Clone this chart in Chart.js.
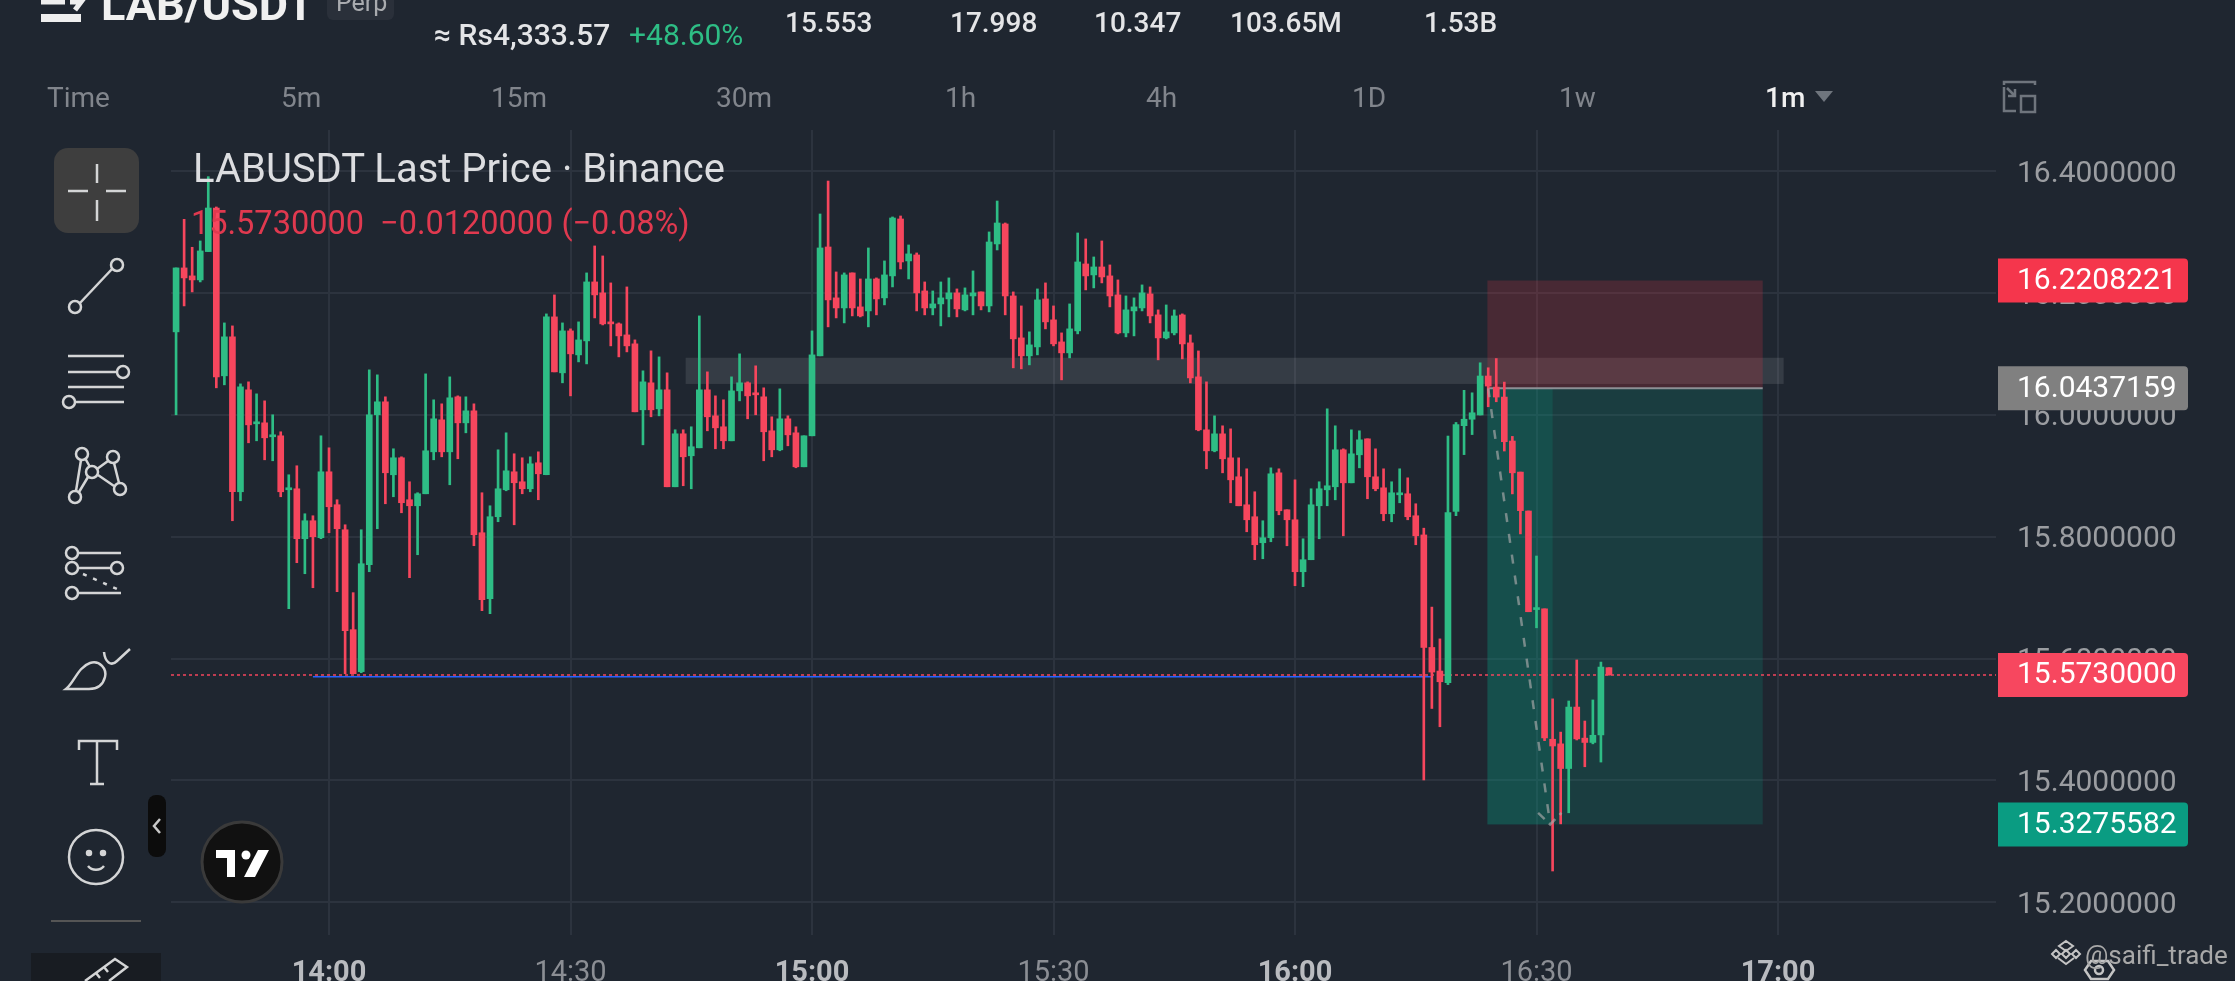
<!DOCTYPE html>
<html>
<head>
<meta charset="utf-8">
<title>LABUSDT</title>
<script src="https://cdn.jsdelivr.net/npm/chart.js@4"></script>
<style>
  html, body { margin: 0; padding: 0; background: #1f2630; overflow: hidden; }
  #wrap { position: relative; width: 2235px; height: 981px; overflow: hidden; font-family: Roboto, sans-serif; }
  #myChart { position: absolute; left: 0; top: 0; }
  #icons { position: absolute; left: 0; top: 0; }
  .t { position: absolute; white-space: pre; line-height: 1; }
  .head { color: #e4e5e7; font-size: 28px; font-weight: 500; }
  .tab { color: #81858c; font-size: 28px; top: 84px; }
</style>
</head>
<body>
<div id="wrap">
  <canvas id="myChart" width="2235" height="981"></canvas>
  <svg id="icons" width="2235" height="981" fill="none" stroke="#d4d5d6" stroke-width="2.5">
    <!-- header -->
    <rect x="41" y="14" width="40" height="8" fill="#eee" stroke="none"/>
    <path d="M41 2h24M70 2h11l-6 8" stroke="#eee" stroke-width="5"/>
    <rect x="327" y="-10" width="67" height="30" rx="6" fill="#2a303a" stroke="none"/>
    <path d="M2004 85v-3h31v3M2004 87v24h12M2007 88l8 8M2015 89v7h-7" stroke="#6f757d"/>
    <rect x="2021" y="96" width="14" height="16" stroke="#6f757d"/>
    <path d="M1815 91h18l-9 11z" fill="#6f757d" stroke="none"/>
    <!-- toolbar -->
    <rect x="54" y="148" width="85" height="85" rx="14" fill="#3e3e3e" stroke="none"/>
    <path d="M68 191h20M106 191h20M97 164v19M97 200v21"/>
    <circle cx="75" cy="307" r="6"/><circle cx="117" cy="265" r="6"/><path d="M80 303l32-34"/>
    <path d="M68 356h56M68 372h49M68 387h56M75 402h49"/><circle cx="123" cy="372" r="6"/><circle cx="69" cy="402" r="6"/>
    <circle cx="82" cy="454" r="6"/><circle cx="113" cy="457" r="6"/><circle cx="92" cy="472" r="6"/><circle cx="75" cy="497" r="6"/><circle cx="120" cy="489" r="6"/>
    <path d="M76 491l5-31M85 458l5 9M108 461l-11 8M114 463l5 20M98 475l16 11M88 477l-9 15"/>
    <circle cx="72" cy="553" r="6"/><circle cx="72" cy="568" r="6"/><circle cx="117" cy="568" r="6"/><circle cx="72" cy="593" r="6"/>
    <path d="M78 553h43M78 568h33M78 593h43"/><path d="M83 574l34 15" stroke-dasharray="4 7"/>
    <path d="M66 689c8-6 12-22 24-26 10-3 17 6 15 14-2 8-8 12-16 12z"/><path d="M104 652c1 10 7 15 13 9l13-12"/>
    <path d="M79 750v-9h38v9M97 741v43M90 784h14"/>
    <circle cx="96" cy="857" r="27"/><circle cx="89" cy="853" r="2" fill="#d4d5d6"/><circle cx="103" cy="853" r="2" fill="#d4d5d6"/><path d="M88 866c4 5 12 5 16 0"/>
    <path d="M51 921h90" stroke="#555" stroke-width="2"/>
    <rect x="31" y="953" width="130" height="28" fill="#181c22" stroke="none"/>
    <path d="M85 981l30-22 12 8-18 14M96 973l4 5M104 967l4 5"/>
    <rect x="148" y="795" width="18" height="62" rx="8" fill="#0c0c0c" stroke="none"/>
    <path d="M160 819l-6 7 6 7" stroke="#c8c8c8"/>
    <!-- logo -->
    <circle cx="242" cy="862" r="40" fill="#111" stroke="#3a3a3a" stroke-width="3"/>
    <path d="M216 850h19v27h-8v-19h-11zM258 850h11l-14 27h-11z" fill="#fff" stroke="none"/>
    <circle cx="246" cy="855" r="4.5" fill="#fff" stroke="none"/>
    <!-- watermark -->
    <path d="M2066 941l7 5-7 5-7-5zM2056 950l4 4-4 4-4-4zM2076 950l4 4-4 4-4-4zM2066 950l4 4-4 4-4-4zM2058 958l8 6 8-6" stroke="#c4c4c4" stroke-width="2"/>
    <path d="M2085 970l6-9h17l6 9-6 9h-17z" stroke="#c4c4c4"/><circle cx="2099" cy="970" r="4" stroke="#c4c4c4"/>
  </svg>

  <div class="t" style="left:101px;top:-18px;font-size:45px;font-weight:700;color:#f0f0f0">LAB/USDT</div>
  <div class="t" style="left:336px;top:-10px;font-size:25px;color:#a9abaf">Perp</div>
  <div class="t head" style="left:434px;top:20px;font-size:30px">≈ Rs4,333.57</div>
  <div class="t" style="left:629px;top:20px;font-size:30px;color:#2ebd85">+48.60%</div>
  <div class="t head" style="left:785px;top:9px">15.553</div>
  <div class="t head" style="left:950px;top:9px">17.998</div>
  <div class="t head" style="left:1094px;top:9px">10.347</div>
  <div class="t head" style="left:1230px;top:9px">103.65M</div>
  <div class="t head" style="left:1424px;top:9px">1.53B</div>

  <div class="t tab" style="left:47px">Time</div>
  <div class="t tab" style="left:281px">5m</div>
  <div class="t tab" style="left:491px">15m</div>
  <div class="t tab" style="left:716px">30m</div>
  <div class="t tab" style="left:945px">1h</div>
  <div class="t tab" style="left:1146px">4h</div>
  <div class="t tab" style="left:1352px">1D</div>
  <div class="t tab" style="left:1559px">1w</div>
  <div class="t tab" style="left:1765px;color:#f0f0f0;font-weight:500">1m</div>

  <div class="t" style="left:193px;top:149px;font-size:40px;color:#dcdde0">LABUSDT Last Price · Binance</div>
  <div class="t" style="left:191px;top:207px;font-size:32.5px;color:#e0394f">15.5730000  −0.0120000 (−0.08%)</div>
  <div class="t" style="left:2085px;top:942px;font-size:26px;color:#a8a8a8">@saifi_trade</div>
</div>

<script>
// x = minutes after 14:00, one candle per minute
const minutes = [
  -19, -18, -17, -16, -15, -14, -13, -12, -11, -10, -9, -8, -7, -6, -5, -4, -3, -2, -1,
  0, 1, 2, 3, 4, 5, 6, 7, 8, 9, 10, 11, 12, 13, 14, 15, 16, 17, 18, 19,
  20, 21, 22, 23, 24, 25, 26, 27, 28, 29, 30, 31, 32, 33, 34, 35, 36, 37, 38, 39,
  40, 41, 42, 43, 44, 45, 46, 47, 48, 49, 50, 51, 52, 53, 54, 55, 56, 57, 58, 59,
  60, 61, 62, 63, 64, 65, 66, 67, 68, 69, 70, 71, 72, 73, 74, 75, 76, 77, 78, 79,
  80, 81, 82, 83, 84, 85, 86, 87, 88, 89, 90, 91, 92, 93, 94, 95, 96, 97, 98, 99,
  100, 101, 102, 103, 104, 105, 106, 107, 108, 109, 110, 111, 112, 113, 114, 115, 116, 117, 118, 119,
  120, 121, 122, 123, 124, 125, 126, 127, 128, 129, 130, 131, 132, 133, 134, 135, 136, 137, 138, 139,
  140, 141, 142, 143, 144, 145, 146, 147, 148, 149, 150, 151, 152, 153, 154, 155, 156, 157, 158, 159,
];

const opens = [
  16.1365, 16.2415, 16.2284, 16.2218, 16.2683, 16.3399, 16.0643, 16.1283, 15.8739, 16.0413, 15.9855, 15.9871, 15.9642, 15.9658, 15.8772, 15.8788, 15.7968, 15.8263, 15.7985,
  15.9067, 15.8526, 15.8115, 15.6474, 15.5785, 15.7541, 16.0003, 16.0216, 15.9018, 15.9297, 15.8608, 15.8509, 15.8706, 15.9395, 15.992, 15.9395, 16.0298, 15.9871, 16.0068, 15.8066,
  15.6983, 15.8329, 15.8772, 15.9067, 15.8903, 15.8788, 15.9215, 15.9018, 16.1611, 16.0692, 16.1381, 16.0987, 16.1217, 16.2185, 16.2005, 16.1529, 16.1496, 16.1315, 16.1168, 16.0085,
  16.0528, 16.0101, 16.0413, 15.8821, 15.9691, 15.933, 15.9461, 16.0413, 15.9986, 15.9806, 15.9576, 16.0396, 16.0528, 16.0364, 16.0298, 15.974, 15.9428, 15.9937, 15.9707, 15.9149,
  15.9658, 16.0971, 16.2759, 16.1923, 16.1758, 16.2333, 16.1775, 16.1709, 16.2234, 16.1923, 16.2284, 16.3219, 16.253, 16.2628, 16.2037, 16.1758, 16.1824, 16.1906, 16.2005, 16.1726,
  16.1955, 16.2021, 16.1791, 16.2809, 16.3137, 16.1955, 16.1266, 16.0971, 16.1118, 16.1906, 16.1562, 16.12, 16.102, 16.1381, 16.248, 16.23, 16.2431, 16.2284, 16.1972, 16.1348,
  16.1709, 16.1758, 16.1988, 16.1644, 16.1266, 16.1348, 16.1643, 16.1184, 16.0626, 15.9756, 15.9411, 15.969, 15.9296, 15.8985, 15.8525, 15.8329, 15.7902, 15.7984, 15.905, 15.8443,
  15.8279, 15.7426, 15.7623, 15.8509, 15.8771, 15.8821, 15.9428, 15.8886, 15.9346, 15.9608, 15.8985, 15.8804, 15.8378, 15.8689, 15.8706, 15.8345, 15.803, 15.6182, 15.5795, 15.5602,
  15.8417, 15.9824, 15.993, 16.0, 16.064, 16.0458, 16.0294, 15.9572, 15.9062, 15.8423, 15.6804, 15.6816, 15.4675, 15.4599, 15.4194, 15.5203, 15.4693, 15.4622, 15.4746, 15.585,
];

const highs = [
  16.2415, 16.3213, 16.2754, 16.2858, 16.3914, 16.3416, 16.1512, 16.1463, 16.0511, 16.0544, 16.0347, 16.0232, 16.0003, 15.9724, 15.9018, 15.9166, 15.8378, 15.8345, 15.9658,
  15.9461, 15.8608, 15.8197, 15.7082, 15.8115, 16.0741, 16.0659, 16.0298, 15.9445, 15.9313, 15.8903, 15.8723, 16.0675, 16.0249, 16.0183, 16.0626, 16.0314, 16.0298, 16.0183, 15.8723,
  15.8509, 15.9428, 15.9707, 15.9363, 15.9297, 15.9313, 15.9395, 16.166, 16.1972, 16.1512, 16.1414, 16.1529, 16.2333, 16.2776, 16.2612, 16.2169, 16.1512, 16.2103, 16.1233, 16.0725,
  16.1053, 16.0954, 16.0692, 15.9757, 15.9757, 15.9806, 16.1627, 16.0708, 16.0314, 16.0249, 16.0626, 16.1004, 16.0544, 16.0807, 16.0446, 15.997, 16.0429, 15.9986, 15.9806, 15.9658,
  16.1381, 16.3301, 16.3842, 16.2349, 16.2333, 16.2333, 16.2234, 16.2743, 16.2251, 16.253, 16.3252, 16.3268, 16.2792, 16.2661, 16.2185, 16.2037, 16.2185, 16.2251, 16.207, 16.2087,
  16.2366, 16.2021, 16.3006, 16.3514, 16.3153, 16.2021, 16.1791, 16.1365, 16.207, 16.2169, 16.1791, 16.1348, 16.1824, 16.2989, 16.2891, 16.2595, 16.2858, 16.2464, 16.2218, 16.1955,
  16.1923, 16.2136, 16.2103, 16.1726, 16.1807, 16.1725, 16.166, 16.1315, 16.1052, 16.0544, 15.9986, 15.9822, 15.9772, 15.9296, 15.9116, 15.8739, 15.8263, 15.9132, 15.9116, 15.8443,
  15.8935, 15.7967, 15.8788, 15.8903, 16.0101, 15.9822, 15.9444, 15.9756, 15.974, 15.9608, 15.9444, 15.9116, 15.8903, 15.9116, 15.8968, 15.8542, 15.8141, 15.6845, 15.6323, 15.9654,
  15.9877, 16.0405, 16.0364, 16.0857, 16.0775, 16.0927, 16.054, 15.9648, 15.9062, 15.8423, 15.7684, 15.6816, 15.5338, 15.4792, 15.5303, 15.5977, 15.4974, 15.532, 15.5942, 15.585,
];

const lows = [
  16.0003, 16.1791, 16.2021, 16.2185, 16.2683, 16.0446, 16.0495, 15.8263, 15.8591, 15.9543, 15.9576, 15.9264, 15.9248, 15.8657, 15.6819, 15.7574, 15.7393, 15.7163, 15.7968,
  15.8066, 15.7098, 15.5752, 15.5752, 15.5768, 15.7426, 15.8132, 15.8542, 15.8657, 15.8394, 15.7328, 15.7705, 15.8706, 15.9264, 15.9313, 15.8854, 15.9281, 15.9707, 15.7853, 15.6786,
  15.6737, 15.8247, 15.8755, 15.8197, 15.8706, 15.8739, 15.8608, 15.9018, 16.0708, 16.0528, 16.0314, 16.0872, 16.0839, 16.1594, 16.1479, 16.1135, 16.0954, 16.1036, 16.0052, 15.951,
  15.997, 15.9986, 15.8821, 15.8821, 15.8838, 15.8788, 15.9461, 15.974, 15.9445, 15.9445, 15.9576, 16.0232, 15.9937, 16.0003, 15.9248, 15.9313, 15.9412, 15.9494, 15.9133, 15.9149,
  15.9658, 16.0971, 16.1447, 16.1594, 16.1512, 16.1627, 16.1611, 16.1447, 16.1644, 16.1808, 16.2103, 16.2398, 16.2234, 16.1709, 16.1644, 16.1644, 16.1463, 16.1611, 16.1611, 16.1709,
  16.1644, 16.1726, 16.1693, 16.271, 16.1644, 16.0774, 16.0757, 16.0823, 16.0987, 16.1414, 16.1135, 16.0577, 16.0938, 16.1332, 16.2054, 16.2087, 16.2169, 16.1775, 16.1332, 16.1283,
  16.1299, 16.1709, 16.1512, 16.0905, 16.1249, 16.1315, 16.0921, 16.0527, 15.974, 15.9116, 15.9395, 15.905, 15.8558, 15.8509, 15.8082, 15.7623, 15.7639, 15.7918, 15.8361, 15.7852,
  15.7196, 15.718, 15.7623, 15.7967, 15.8509, 15.8607, 15.8016, 15.8886, 15.9132, 15.8624, 15.8755, 15.8263, 15.8246, 15.8558, 15.8279, 15.7869, 15.4006, 15.518, 15.488, 15.5572,
  15.8346, 15.9349, 15.9678, 16.0, 16.0135, 16.0217, 15.9408, 15.8704, 15.8047, 15.6769, 15.6505, 15.4651, 15.2511, 15.3285, 15.3467, 15.4663, 15.4223, 15.4599, 15.43, 15.573,
];

const closes = [
  16.2415, 16.2251, 16.2218, 16.2694, 16.3399, 16.0626, 16.1283, 15.8739, 16.0462, 15.9838, 15.9888, 15.9625, 15.9674, 15.8739, 15.8805, 15.7968, 15.8263, 15.8001, 15.9067,
  15.8493, 15.8132, 15.6458, 15.5752, 15.7557, 16.0003, 16.0216, 15.9051, 15.9297, 15.8559, 15.8509, 15.8706, 15.9412, 15.9937, 15.9395, 16.0282, 15.9871, 16.0068, 15.8033, 15.6967,
  15.8329, 15.8788, 15.9083, 15.8887, 15.8788, 15.9198, 15.9034, 16.1611, 16.0708, 16.1381, 16.1004, 16.1233, 16.2185, 16.1972, 16.1496, 16.1496, 16.1299, 16.1135, 16.0052, 16.0544,
  16.0085, 16.0413, 15.8821, 15.9691, 15.9313, 15.9478, 16.0413, 15.997, 15.9789, 15.9576, 16.0396, 16.0528, 16.0314, 16.0331, 15.9724, 15.9428, 15.9937, 15.9674, 15.9149, 15.9658,
  16.0987, 16.2743, 16.189, 16.1758, 16.23, 16.1758, 16.1627, 16.2234, 16.1906, 16.23, 16.3235, 16.2513, 16.2645, 16.2005, 16.1758, 16.1824, 16.1923, 16.2005, 16.1742, 16.1972,
  16.2005, 16.1791, 16.2841, 16.3153, 16.1955, 16.125, 16.0971, 16.1151, 16.189, 16.1529, 16.1168, 16.102, 16.1414, 16.2513, 16.2284, 16.2431, 16.2267, 16.1955, 16.1348, 16.1726,
  16.1775, 16.2005, 16.1627, 16.1266, 16.1364, 16.1627, 16.1167, 16.0609, 15.9756, 15.9411, 15.969, 15.928, 15.8935, 15.8509, 15.8279, 15.7869, 15.7984, 15.9034, 15.8427, 15.8279,
  15.7426, 15.7623, 15.8525, 15.8788, 15.8837, 15.9428, 15.8886, 15.9362, 15.9592, 15.8985, 15.8788, 15.8378, 15.8722, 15.8722, 15.8329, 15.8016, 15.6182, 15.5778, 15.5619, 15.8399,
  15.9842, 15.993, 16.0036, 16.064, 16.0475, 16.0294, 15.9561, 15.905, 15.8429, 15.6769, 15.6828, 15.4698, 15.4564, 15.4194, 15.5203, 15.4681, 15.4622, 15.474, 15.586, 15.573,
];

const priceTicks = [15.2, 15.4, 15.6, 15.8, 16.0, 16.2, 16.4];
const timeTicks = [0, 30, 60, 90, 120, 150, 180];
const timeLabels = ["14:00", "14:30", "15:00", "15:30", "16:00", "16:30", "17:00"];

const tagValues = [16.2208221, 16.0437159, 15.573, 15.3275582];
const tagColors = ["#f5364c", "#808080", "#f7475f", "#0a9c82"];

// drawing tool values
const lastPrice = 15.573;
const supportLevel = 15.57;
const supportMinutes = [-2, 137];
const bandPrices = [16.051, 16.094];
const bandMinutes = [44.3, 180.7];
const positionMinutes = [143.9, 178.1];
const targetEndMinute = 152;
const pathMinutes = [144, 151.7];
const pathPrices = [16.0437, 15.3276];
const arrowMinutes = [150.2, 151.7, 153.1];
const arrowPrices = [15.3465, 15.3276, 15.3465];

const GREEN = "#2ebd85";
const RED = "#f6465d";

function makeBars(a, b) {
  let bars = [];
  for (let i = 0; i < minutes.length; i++) {
    bars.push({ x: minutes[i], y: [a[i], b[i]] });
  }
  return bars;
}

let candleColors = [];
for (let i = 0; i < closes.length; i++) {
  candleColors.push(closes[i] >= opens[i] ? GREEN : RED);
}

function makeLine(xs, ys) {
  let points = [];
  for (let i = 0; i < xs.length; i++) {
    points.push({ x: xs[i], y: ys[i] });
  }
  return points;
}

// zones go under the candles, price tags over the axis labels
const zonesPlugin = {
  id: "zones",
  beforeDatasetsDraw(chart) {
    const { ctx, scales } = chart;
    function box(x0, x1, p0, p1, color) {
      let left = scales.x.getPixelForValue(x0);
      let right = scales.x.getPixelForValue(x1);
      let top = scales.y.getPixelForValue(p1);
      let bottom = scales.y.getPixelForValue(p0);
      ctx.fillStyle = color;
      ctx.fillRect(left, top, right - left, bottom - top);
    }
    box(bandMinutes[0], bandMinutes[1], bandPrices[0], bandPrices[1], "rgba(255,255,255,0.1)");
    box(positionMinutes[0], positionMinutes[1], tagValues[1], tagValues[0], "rgba(242,54,69,0.2)");
    box(positionMinutes[0], positionMinutes[1], tagValues[3], tagValues[1], "rgba(8,153,129,0.2)");
    box(positionMinutes[0], targetEndMinute, tagValues[3], tagValues[1], "rgba(8,153,129,0.2)");
  },
  afterDraw(chart) {
    const { ctx, scales } = chart;
    for (let i = 0; i < tagValues.length; i++) {
      let y = scales.y.getPixelForValue(tagValues[i]);
      ctx.fillStyle = tagColors[i];
      ctx.beginPath();
      ctx.roundRect(1998, y - 22, 190, 44, [0, 4, 4, 0]);
      ctx.fill();
      ctx.fillStyle = "#ffffff";
      ctx.font = "30px Roboto";
      ctx.textAlign = "left";
      ctx.textBaseline = "middle";
      ctx.fillText(tagValues[i].toFixed(7), 2017, y + 1);
    }
  },
};

const ctx = document.getElementById("myChart").getContext("2d");

new Chart(ctx, {
  data: {
    datasets: [
      {
        type: "line",
        data: makeLine(pathMinutes, pathPrices),
        borderColor: "rgba(170,170,170,0.65)",
        borderWidth: 2.5,
        borderDash: [9, 12],
        pointRadius: 0,
        order: 0,
      },
      {
        type: "line",
        data: makeLine(arrowMinutes, arrowPrices),
        borderColor: "rgba(170,170,170,0.65)",
        borderWidth: 2.5,
        borderDash: [9, 6],
        pointRadius: 0,
        order: 0,
      },
      {
        type: "bar",
        data: makeBars(opens, closes),
        backgroundColor: candleColors,
        barThickness: 6,
        minBarLength: 2,
        grouped: false,
        order: 1,
      },
      {
        type: "bar",
        data: makeBars(lows, highs),
        backgroundColor: candleColors,
        barThickness: 2,
        grouped: false,
        order: 2,
      },
      {
        type: "line",
        data: makeLine([-19.63, 207.08], [lastPrice, lastPrice]),
        borderColor: "rgba(246,70,93,0.75)",
        borderWidth: 2,
        borderDash: [3, 3],
        pointRadius: 0,
        order: 3,
      },
      {
        type: "line",
        data: makeLine(positionMinutes, [tagValues[1], tagValues[1]]),
        borderColor: "#8d9096",
        borderWidth: 2,
        pointRadius: 0,
        order: 3,
      },
      {
        type: "line",
        data: makeLine(supportMinutes, [supportLevel, supportLevel]),
        borderColor: "#2962ff",
        borderWidth: 1.5,
        pointRadius: 0,
        order: 4,
      },
    ],
  },
  options: {
    responsive: false,
    animation: false,
    devicePixelRatio: 1,
    layout: { padding: { left: 171, top: 130, right: 0, bottom: 0 } },
    plugins: { legend: { display: false }, tooltip: { enabled: false } },
    events: [],
    scales: {
      x: {
        type: "linear",
        min: -19.63,
        max: 207.08,
        offset: false,
        border: { display: false },
        grid: { color: "#2c333e", lineWidth: 2, drawTicks: false, offset: false },
        afterFit(scale) {
          scale.height = 46;
        },
        afterBuildTicks(scale) {
          scale.ticks = timeTicks.map((v) => ({ value: v }));
        },
        ticks: {
          autoSkip: false,
          maxRotation: 0,
          padding: 21,
          font: (c) => ({ family: "Roboto", size: 29, weight: c.index % 2 === 0 ? "bold" : "normal" }),
          color: (c) => (c.index % 2 === 0 ? "#b9bbbf" : "#8b8e94"),
          callback: (value, index) => timeLabels[index],
        },
      },
      y: {
        type: "linear",
        position: "right",
        min: 15.146,
        max: 16.468,
        border: { display: false },
        grid: { color: "#2c333e", lineWidth: 2, drawTicks: false },
        afterFit(scale) {
          scale.width = 239;
        },
        afterBuildTicks(scale) {
          scale.ticks = priceTicks.map((v) => ({ value: v }));
        },
        ticks: {
          autoSkip: false,
          padding: 21,
          crossAlign: "near",
          labelOffset: 3,
          font: { family: "Roboto", size: 30 },
          color: "#9b9da1",
          callback: (value) => value.toFixed(7),
        },
      },
    },
  },
  plugins: [zonesPlugin],
});
</script>
</body>
</html>
